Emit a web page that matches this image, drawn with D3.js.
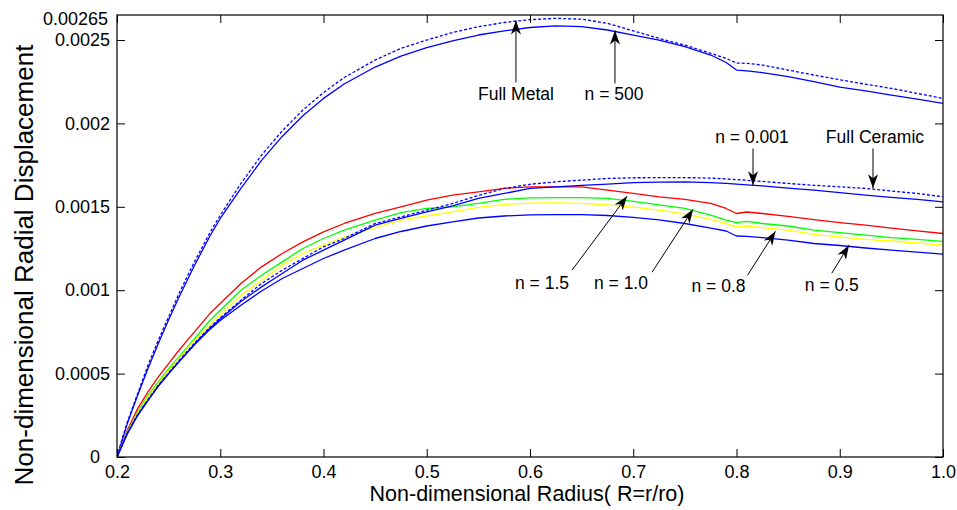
<!DOCTYPE html>
<html><head><meta charset="utf-8">
<script src="https://cdn.jsdelivr.net/npm/d3@7"></script>
<style>
body{margin:0;background:#fff}
svg{display:block}
text{font-family:"Liberation Sans",Arial,Helvetica,sans-serif;fill:#000}
</style>
</head><body>
<svg id="chart" width="957" height="510"></svg>
<script>
// ---- data ----
const radius = [0.2,0.205,0.21,0.22,0.23,0.24,0.25,0.26,0.275,0.29,0.3,0.32,0.34,0.36,0.38,0.4,0.42,0.45,0.475,0.5,0.525,0.55,0.575,0.6,0.625,0.65,0.675,0.7,0.725,0.75,0.775,0.79,0.8,0.81,0.825,0.85,0.875,0.9,0.925,0.95,0.975,1.0];

const fullMetal = [0,0.00011,0.00021,0.00038,0.00055,0.0007,0.00084,0.00098,0.00117,0.001345,0.00145,0.00164,0.00181,0.001955,0.00208,0.002185,0.002275,0.00238,0.00245,0.0025,0.002545,0.00258,0.002605,0.002622,0.00263,0.002625,0.0026,0.002555,0.00251,0.00247,0.00242,0.00239,0.002362,0.00236,0.00235,0.00232,0.00229,0.002262,0.002235,0.00221,0.00218,0.00215];

const n500 = [0,0.0001,0.0002,0.00037,0.00053,0.00068,0.000823,0.000958,0.001148,0.001325,0.00143,0.00161,0.001778,0.001922,0.002046,0.00215,0.002236,0.002338,0.002403,0.002455,0.002495,0.00253,0.002555,0.002575,0.002585,0.00258,0.00256,0.00253,0.0025,0.00246,0.00241,0.002365,0.00232,0.002315,0.002305,0.00228,0.00225,0.002217,0.002195,0.00217,0.002145,0.00212];

const fullCeramic = [0,0.00007,0.000145,0.000255,0.000345,0.00043,0.000505,0.000578,0.000683,0.000778,0.000834,0.00094,0.00104,0.00112,0.00119,0.00126,0.00131,0.0014,0.00144,0.00148,0.00152,0.001568,0.00161,0.001635,0.00165,0.00166,0.00167,0.001674,0.001675,0.001675,0.001672,0.001667,0.001663,0.001659,0.001652,0.00164,0.001629,0.00162,0.00161,0.001595,0.00158,0.00156];

const n0001 = [0,0.00007,0.00014,0.00025,0.00034,0.000425,0.0005,0.000572,0.000676,0.000772,0.000828,0.000932,0.00102,0.0011,0.00118,0.00124,0.0013,0.00139,0.00143,0.00147,0.001505,0.00155,0.00158,0.00161,0.00162,0.001628,0.001636,0.001645,0.001648,0.001649,0.001645,0.00164,0.001636,0.001632,0.001625,0.001612,0.0016,0.001585,0.00157,0.001557,0.001545,0.00153];

const n15 = [0,0.00008,0.00016,0.00029,0.00039,0.00048,0.00056,0.00064,0.00075,0.00086,0.00092,0.00104,0.00114,0.00122,0.00129,0.00135,0.0014,0.00146,0.0015,0.00154,0.00157,0.00159,0.00161,0.00162,0.00162,0.00162,0.0016,0.00158,0.00156,0.001545,0.00152,0.00149,0.00146,0.001469,0.00146,0.001443,0.001423,0.001405,0.00139,0.001372,0.001356,0.00134];

const n10 = [0,0.000075,0.00015,0.00027,0.00037,0.00045,0.00053,0.0006,0.00071,0.00082,0.00088,0.001,0.00109,0.00117,0.00125,0.00131,0.00136,0.00142,0.001465,0.00149,0.0015,0.00152,0.001545,0.001553,0.001555,0.001555,0.00155,0.001533,0.001512,0.00149,0.00145,0.00142,0.001405,0.001413,0.0014,0.001385,0.00136,0.001345,0.00133,0.001315,0.001305,0.001293];

const n08 = [0,0.000075,0.00015,0.00026,0.00036,0.00044,0.00052,0.00059,0.0007,0.00079,0.00085,0.00097,0.00106,0.00115,0.00122,0.00127,0.00132,0.001375,0.00142,0.001445,0.00147,0.001497,0.001515,0.001522,0.001523,0.00152,0.001512,0.001498,0.00148,0.001458,0.001425,0.0014,0.00138,0.001385,0.001375,0.00136,0.001335,0.00132,0.001305,0.001295,0.001283,0.00127];

const n05 = [0,0.00007,0.00014,0.00025,0.00034,0.000425,0.0005,0.00057,0.000672,0.000765,0.000818,0.00091,0.000995,0.00107,0.00113,0.00119,0.00124,0.00131,0.001352,0.001385,0.00141,0.001433,0.001445,0.001452,0.001453,0.001453,0.001448,0.001437,0.001422,0.0014,0.001372,0.001355,0.001325,0.001323,0.001315,0.0013,0.00128,0.001268,0.001253,0.00124,0.001228,0.001216];

const xTicks = [0.2,0.3,0.4,0.5,0.6,0.7,0.8,0.9,1.0];
const xTickLabels = ["0.2","0.3","0.4","0.5","0.6","0.7","0.8","0.9","1.0"];
const yTicks = [0,0.0005,0.001,0.0015,0.002,0.0025,0.00265];
const yTickLabels = ["0","0.0005","0.001","0.0015","0.002","0.0025","0.00265"];

const xTitle = "Non-dimensional Radius( R=r/ro)";
const yTitle = "Non-dimensional Radial Displacement";

// series styles
const series = [
  {name:"Full Metal", values:fullMetal, color:"#0000ff", dash:"3,2"},
  {name:"n = 500", values:n500, color:"#0000ff", dash:null},
  {name:"n = 1.5", values:n15, color:"#ff0000", dash:null},
  {name:"n = 1.0", values:n10, color:"#00ff00", dash:null},
  {name:"n = 0.8", values:n08, color:"#ffff00", dash:null},
  {name:"Full Ceramic", values:fullCeramic, color:"#0000ff", dash:"3,2"},
  {name:"n = 0.001", values:n0001, color:"#0000ff", dash:null},
  {name:"n = 0.5", values:n05, color:"#0000ff", dash:null}
];

// annotations in data coordinates: arrow tip, arrow tail, label anchor (baseline centre)
const annoText = ["Full Metal","n = 500","n = 0.001","Full Ceramic","n = 1.5","n = 1.0","n = 0.8","n = 0.5"];
const annoTip  = [[0.5864,0.002617],[0.6823,0.002557],[0.816,0.001629],[0.9322,0.001611],[0.694,0.001563],[0.7579,0.001485],[0.8378,0.001353],[0.909,0.00127]];
const annoTail = [[0.5864,0.002246],[0.6823,0.00224],[0.816,0.00185],[0.9322,0.00185],[0.6407,0.00112],[0.7182,0.001108],[0.8107,0.00109],[0.8923,0.001102]];
const annoLabel= [[0.5864,0.002138],[0.6814,0.002138],[0.815,0.00188],[0.9341,0.00188],[0.6116,0.001006],[0.6881,0.001006],[0.7826,0.000988],[0.8923,0.000994]];

// ---- layout ----
const W = 957, H = 510;
const m = {left:117, right:14, top:15, bottom:53};
const svg = d3.select("#chart");
const x = d3.scaleLinear().domain([0.2,1.0]).range([m.left, W - m.right]);
const y = d3.scaleLinear().domain([0,0.00265]).range([H - m.bottom, m.top]);

svg.append("defs").append("clipPath").attr("id","clip")
  .append("rect").attr("x",m.left).attr("y",m.top)
  .attr("width",W-m.left-m.right).attr("height",H-m.top-m.bottom);

// curves
const line = d3.line().x((d,i)=>x(radius[i])).y(d=>y(d));
const gLines = svg.append("g").attr("clip-path","url(#clip)");
series.forEach(s=>{
  gLines.append("path").datum(s.values)
    .attr("d", line)
    .attr("fill","none")
    .attr("stroke", s.color)
    .attr("stroke-width", 1.3)
    .attr("stroke-dasharray", s.dash)
    .attr("stroke-linejoin","round");
});

// axes
const fs = 18;
const xAxis = d3.axisBottom(x).tickValues(xTicks).tickFormat((d,i)=>xTickLabels[i])
  .tickSizeInner(-8).tickSizeOuter(0).tickPadding(8);
const gx = svg.append("g").attr("transform",`translate(0,${H-m.bottom})`).call(xAxis);
const yAxis = d3.axisLeft(y).tickValues(yTicks).tickFormat((d,i)=>yTickLabels[i])
  .tickSizeInner(-8).tickSizeOuter(0).tickPadding(7);
const gy = svg.append("g").attr("transform",`translate(${m.left},0)`).call(yAxis);
const gxt = svg.append("g").attr("transform",`translate(0,${m.top})`)
  .call(d3.axisTop(x).tickValues(xTicks).tickFormat("").tickSizeInner(-8).tickSizeOuter(0));
const gyr = svg.append("g").attr("transform",`translate(${W-m.right},0)`)
  .call(d3.axisRight(y).tickValues(yTicks.filter(v=>v<0.0026)).tickFormat("").tickSizeInner(-8).tickSizeOuter(0));
gy.selectAll(".tick").filter(d=>d>0.0026).select("line").remove();
[gx,gy,gxt,gyr].forEach(g=>{
  g.select(".domain").remove();
  g.selectAll(".tick line").attr("stroke","#000").attr("stroke-width",1);
  g.selectAll(".tick text").attr("font-size",fs).attr("font-family",'"Liberation Sans",Arial,sans-serif').attr("fill","#000");
});
// fine placement of the two special labels as in the reference
gy.selectAll(".tick").filter(d=>d===0).select("text").attr("x",-17);
gy.selectAll(".tick").filter(d=>d>0.0026).select("text").attr("dy","0.5em").attr("x",-9);

// frame
svg.append("rect").attr("x",m.left).attr("y",m.top)
  .attr("width",W-m.left-m.right).attr("height",H-m.top-m.bottom)
  .attr("fill","none").attr("stroke","#000").attr("stroke-width",1.2);

// titles
svg.append("text").attr("x",(x(0.2)+x(1.0))/2 - 3).attr("y",501)
  .attr("text-anchor","middle").attr("font-size",21.5).text(xTitle);
svg.append("text").attr("transform",`translate(33,265) rotate(-90)`)
  .attr("text-anchor","middle").attr("font-size",26).text(yTitle);

// annotations
const gA = svg.append("g");
annoText.forEach((t,i)=>{
  const tx = x(annoTip[i][0]), ty = y(annoTip[i][1]);
  const sx = x(annoTail[i][0]), sy = y(annoTail[i][1]);
  const ang = Math.atan2(ty-sy, tx-sx)*180/Math.PI;
  gA.append("line").attr("x1",sx).attr("y1",sy).attr("x2",tx).attr("y2",ty)
    .attr("stroke","#000").attr("stroke-width",1);
  gA.append("path").attr("d","M0,0 L-14,-5 L-10,0 L-14,5 Z")
    .attr("transform",`translate(${tx},${ty}) rotate(${ang})`)
    .attr("fill","#000");
  gA.append("text").attr("x",x(annoLabel[i][0])).attr("y",y(annoLabel[i][1]))
    .attr("text-anchor","middle").attr("font-size",17.5).text(t);
});
</script>
</body></html>
